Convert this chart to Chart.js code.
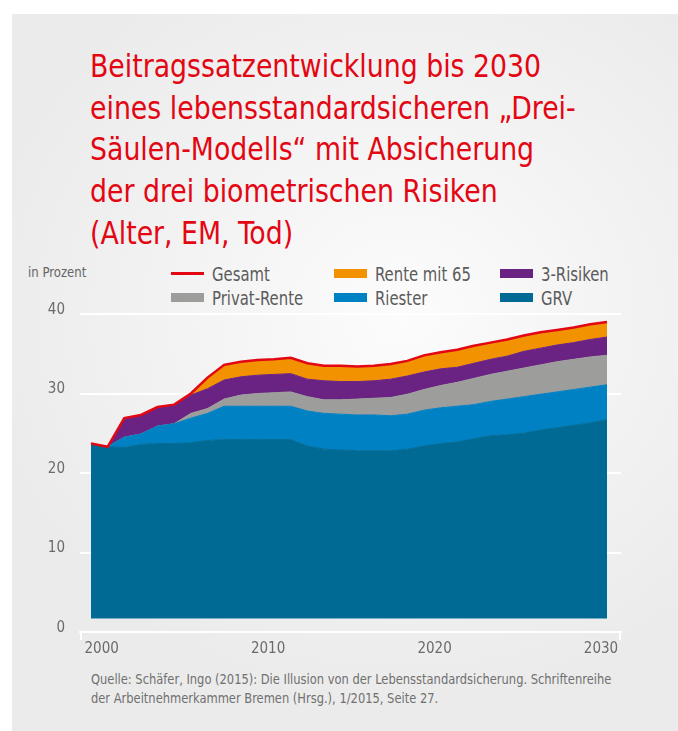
<!DOCTYPE html>
<html lang="de">
<head>
<meta charset="UTF-8">
<title>Beitragssatzentwicklung bis 2030</title>
<script src="https://cdn.jsdelivr.net/npm/chart.js@4.4.1/dist/chart.umd.min.js"></script>
<style>
  html, body { margin: 0; padding: 0; background: #fff; }
  body { width: 678px; height: 731px; position: relative; overflow: hidden;
         font-family: 'Liberation Sans Narrow', 'DejaVu Sans Condensed', sans-serif; }
  #panel { position: absolute; left: 12px; top: 14px; width: 666px; height: 717px;
           background: radial-gradient(ellipse 430px 390px at 390px 300px, #fcfcfc 0%, #f4f4f4 45%, #ebebeb 100%); }
  #title { position: absolute; left: 90px; top: 46px; margin: 0; color: #e30613; font-weight: normal;
           font-size: 32.5px; line-height: 41.7px; white-space: nowrap;
           transform: scaleX(0.915); transform-origin: 0 0; }
  #unit { position: absolute; left: 28px; top: 264px; font-size: 14px; color: #666; white-space: nowrap;
          transform: scaleX(0.93); transform-origin: 0 0; }
  .leg { position: absolute; height: 20px; font-size: 19px; line-height: 20px; color: #5b5b5b; white-space: nowrap; }
  .leg i { position: absolute; left: 0; top: 5px; width: 33px; height: 9px; }
  .leg i.line { top: 8px; height: 3px; }
  .leg span { position: absolute; left: 41px; top: 0; display: inline-block; transform: scaleX(0.87); transform-origin: 0 0; }
  #source { position: absolute; left: 91px; top: 670px; font-size: 14.2px; line-height: 19.3px; color: #707070; white-space: nowrap;
            transform: scaleX(0.9); transform-origin: 0 0; }
  canvas { position: absolute; left: 0; top: 0; }
</style>
</head>
<body>
<div id="panel"></div>
<h1 id="title">Beitragssatzentwicklung bis 2030<br>eines lebensstandardsicheren „Drei-<br>Säulen-Modells“ mit Absicherung<br>der drei biometrischen Risiken<br>(Alter, EM, Tod)</h1>
<div id="unit">in Prozent</div>
<div id="legend"></div>
<div id="source">Quelle: Schäfer, Ingo (2015): Die Illusion von der Lebensstandardsicherung. Schriftenreihe<br>der Arbeitnehmerkammer Bremen (Hrsg.), 1/2015, Seite 27.</div>
<canvas id="chart" width="678" height="731"></canvas>
<script>
// Jahre und Beitragssätze (in Prozent)
const years = [1999, 2000, 2001, 2002, 2003, 2004, 2005, 2006, 2007, 2008, 2009, 2010, 2011, 2012, 2013, 2014,
               2015, 2016, 2017, 2018, 2019, 2020, 2021, 2022, 2023, 2024, 2025, 2026, 2027, 2028, 2029, 2030];
const grv     = [23.7, 23.3, 23.2, 23.6, 23.7, 23.7, 23.8, 24.1, 24.2, 24.2, 24.2, 24.2, 24.2, 23.4, 23.0, 22.9,
                 22.8, 22.8, 22.8, 23.0, 23.4, 23.7, 23.9, 24.3, 24.7, 24.8, 25.0, 25.4, 25.7, 26.0, 26.3, 26.7];
const riester = [0, 0, 1.3, 1.3, 2.2, 2.5, 3.1, 3.4, 4.2, 4.2, 4.2, 4.2, 4.2, 4.4, 4.5, 4.5,
                 4.5, 4.5, 4.4, 4.4, 4.5, 4.5, 4.5, 4.3, 4.3, 4.5, 4.6, 4.5, 4.5, 4.5, 4.5, 4.4];
const privat  = [0, 0, 0, 0, 0, 0, 0.6, 0.6, 0.9, 1.4, 1.6, 1.7, 1.8, 1.8, 1.7, 1.8,
                 2.0, 2.1, 2.3, 2.5, 2.6, 2.8, 3.0, 3.3, 3.4, 3.5, 3.6, 3.7, 3.8, 3.8, 3.8, 3.7];
const risiken = [0, 0, 2.4, 2.4, 2.4, 2.3, 2.3, 2.5, 2.4, 2.3, 2.3, 2.3, 2.3, 2.2, 2.4, 2.3,
                 2.2, 2.2, 2.3, 2.3, 2.2, 2.1, 1.9, 1.9, 1.9, 1.9, 2.1, 2.1, 2.1, 2.1, 2.2, 2.3];
const rente65 = [0, 0, 0, 0, 0, 0.1, 0.2, 1.4, 1.9, 1.9, 1.9, 1.9, 2.0, 2.0, 1.9, 2.0,
                 1.9, 1.9, 1.9, 1.9, 2.1, 2.1, 2.2, 2.2, 2.1, 2.1, 2.0, 2.0, 1.9, 1.9, 1.9, 1.9];
const gesamt  = [23.7, 23.3, 26.9, 27.3, 28.3, 28.6, 30.0, 32.0, 33.6, 34.0, 34.2, 34.3, 34.5, 33.8, 33.5, 33.5,
                 33.4, 33.5, 33.7, 34.1, 34.8, 35.2, 35.5, 36.0, 36.4, 36.8, 37.3, 37.7, 38.0, 38.3, 38.7, 39.0];
const tickYears = [2000, 2010, 2020, 2030];
const yTicks = [0, 10, 20, 30, 40];

const FONT = "'Liberation Sans Narrow', 'DejaVu Sans Condensed', sans-serif";
const colors = { grv: '#006a94', riester: '#0081c3', privat: '#9d9d9c', risiken: '#6a2383', rente65: '#f39200', gesamt: '#e30613' };

const pts = arr => years.map((yr, i) => ({ x: yr, y: arr[i] }));
const area = (label, arr, color, fill) => ({
  label, data: pts(arr), backgroundColor: color, borderColor: color, borderWidth: 1,
  fill, order: 1, stack: 'teile', pointRadius: 0, tension: 0
});

// Legende: zwei Zeilen mit je drei Einträgen
const legendRows = [
  [['Gesamt', colors.gesamt, true], ['Rente mit 65', colors.rente65], ['3-Risiken', colors.risiken]],
  [['Privat-Rente', colors.privat], ['Riester', colors.riester], ['GRV', colors.grv]]
];
const legCols = [171, 334, 500], legTops = [264, 288];
const legEl = document.getElementById('legend');
legendRows.forEach((row, r) => row.forEach(([txt, col, isLine], c) => {
  const d = document.createElement('div');
  d.className = 'leg';
  d.style.left = legCols[c] + 'px';
  d.style.top = legTops[r] + 'px';
  d.innerHTML = '<i class="' + (isLine ? 'line' : '') + '" style="background:' + col + '"></i><span>' + txt + '</span>';
  legEl.appendChild(d);
}));

// kleine Endmarken an der x-Achse
const bracket = {
  id: 'bracket',
  afterDraw(chart) {
    const { ctx, chartArea: a } = chart;
    ctx.save();
    ctx.strokeStyle = '#ffffff';
    ctx.lineWidth = 2;
    ctx.beginPath();
    ctx.moveTo(a.left + 1, a.bottom); ctx.lineTo(a.left + 1, a.bottom + 8);
    ctx.moveTo(a.right - 1, a.bottom); ctx.lineTo(a.right - 1, a.bottom + 8);
    ctx.stroke();
    ctx.restore();
  }
};

new Chart(document.getElementById('chart'), {
  type: 'line',
  data: {
    datasets: [
      area('GRV', grv, colors.grv, { value: 1.7 }),
      area('Riester', riester, colors.riester, '-1'),
      area('Privat-Rente', privat, colors.privat, '-1'),
      area('3-Risiken', risiken, colors.risiken, '-1'),
      area('Rente mit 65', rente65, colors.rente65, '-1'),
      { label: 'Gesamt', data: pts(gesamt), borderColor: colors.gesamt, borderWidth: 2.5, fill: false,
        order: 0, stack: 'gesamt', pointRadius: 0, tension: 0 }
    ]
  },
  options: {
    responsive: false,
    animation: false,
    layout: { padding: { left: 0, right: 57, top: 314, bottom: 69 } },
    plugins: { legend: { display: false }, tooltip: { enabled: false } },
    scales: {
      x: {
        type: 'linear', min: 1998.34, max: 2030.84,
        afterBuildTicks: s => { s.ticks = tickYears.map(v => ({ value: v })); },
        afterFit: s => { s.height = 30; },
        grid: { display: false, drawTicks: false },
        border: { color: '#ffffff', width: 2 },
        ticks: { padding: 8, labelOffset: -6, color: '#6b6b6b', font: { family: FONT, size: 15 },
                 autoSkip: false, maxRotation: 0, callback: v => String(v) }
      },
      y: {
        stacked: true, min: 0, max: 40,
        afterBuildTicks: s => { s.ticks = yTicks.map(v => ({ value: v })); },
        afterFit: s => { s.width = 80; },
        grid: { color: c => c.tick.value === 0 ? 'rgba(0,0,0,0)' : '#ffffff', lineWidth: 2, drawTicks: false },
        border: { display: false },
        ticks: { padding: 15, labelOffset: -4, color: '#6b6b6b', font: { family: FONT, size: 15 } }
      }
    }
  },
  plugins: [bracket]
});
</script>
</body>
</html>
